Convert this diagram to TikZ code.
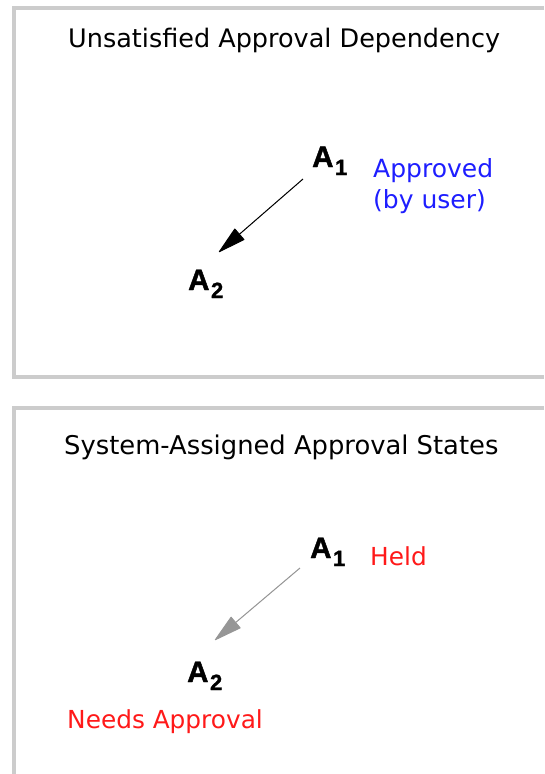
\documentclass[tikz,border=0pt]{standalone}
\usepackage{fontspec}
\setmainfont{DejaVu Sans}
\newfontfamily\labfont{Liberation Sans}[FakeBold=1.4]
\usetikzlibrary{arrows.meta}
\definecolor{framegray}{RGB}{204,204,204}
\definecolor{txtblue}{RGB}{30,30,255}
\definecolor{txtred}{RGB}{255,25,25}
\definecolor{arrgray}{RGB}{150,150,150}
\newcommand{\Asub}[1]{A\kern1.5pt\raisebox{-8pt}{\fontsize{22}{22}\selectfont #1}}
\begin{document}
\begin{tikzpicture}[x=1pt,y=-1pt,
  frame/.style={draw=framegray,line width=3.5pt},
  title/.style={inner sep=0pt,anchor=base west,font=\fontsize{25.5}{30}\selectfont},
  anode/.style={inner sep=0pt,anchor=base west,font=\fontsize{29.5}{30}\selectfont\labfont\bfseries},
  note/.style={inner sep=0pt,anchor=base west,align=left},
  dep/.style={line width=1pt,-{Triangle[length=29pt,width=15pt,round]}}]
\useasboundingbox (0,0) rectangle (544,774);
\fill[white] (0,0) rectangle (544,774);
% top panel
\draw[frame] (544,8) -- (14,8) -- (14,377) -- (544,377);
\node[title] (t1) at (68,47) {Unsatisfied Approval Dependency};
\node[anode] (a1) at (312,167) {\Asub{1}};
\node[anode] (a2) at (188,290) {\Asub{2}};
\node[note,text=txtblue,font=\fontsize{25}{31}\selectfont] (n1) at (373,208) {Approved\\(by user)};
\draw[dep,draw=black,fill=black] ([xshift=-9pt,yshift=-12pt]a1.base west) -- ([xshift=31pt,yshift=38pt]a2.base west);
% bottom panel
\draw[frame] (544,408) -- (14,408) -- (14,774);
\node[title,font=\fontsize{25.8}{30}\selectfont] (t2) at (64,454) {System-Assigned Approval States};
\node[anode] (b1) at (310,558) {\Asub{1}};
\node[anode] (b2) at (187,682) {\Asub{2}};
\node[note,text=txtred,font=\fontsize{24.8}{28}\selectfont] (h1) at (370,565) {Held};
\node[note,text=txtred,font=\fontsize{24.8}{28}\selectfont] (h2) at (67,728) {Needs Approval};
\draw[dep,draw=arrgray,fill=arrgray] ([xshift=-10pt,yshift=-10pt]b1.base west) -- ([xshift=28pt,yshift=42pt]b2.base west);
\end{tikzpicture}
\end{document}
